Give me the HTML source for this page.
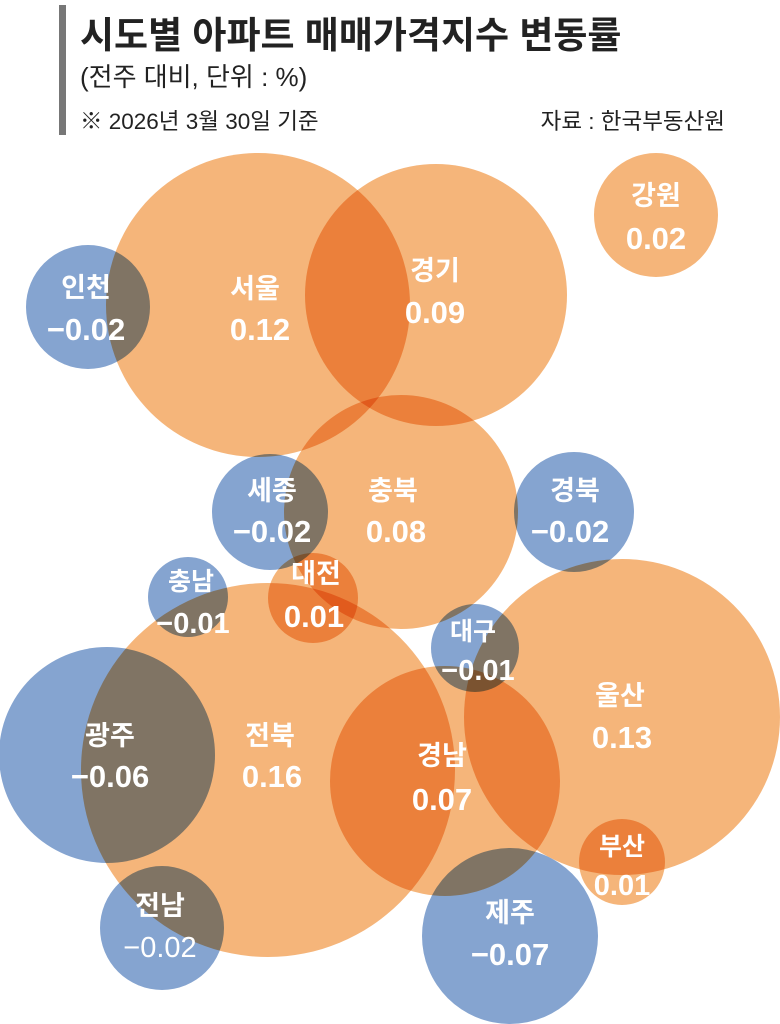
<!DOCTYPE html>
<html><head><meta charset="utf-8"><style>
html,body{margin:0;padding:0;background:#fff;}
svg{display:block}
text{font-family:"Liberation Sans","Noto Sans CJK KR",sans-serif;}
</style></head><body>
<svg width="780" height="1024" viewBox="0 0 780 1024" xmlns="http://www.w3.org/2000/svg">
<rect width="780" height="1024" fill="#fff"/>
<rect x="59" y="5" width="7" height="130" fill="#777"/>
<text x="80" y="48" font-size="37" font-weight="bold" fill="#222">시도별 아파트 매매가격지수 변동률</text>
<text x="80" y="86" font-size="26" fill="#222">(전주 대비, 단위 : %)</text>
<text x="80" y="129" font-size="22.5" fill="#222">※ 2026년 3월 30일 기준</text>
<text x="725" y="129" font-size="22.5" fill="#222" text-anchor="end">자료 : 한국부동산원</text>
<g style="isolation:isolate">
<circle cx="258" cy="305" r="152" fill="#F5B57A" style="mix-blend-mode:multiply"/>
<circle cx="436" cy="295" r="131" fill="#F5B57A" style="mix-blend-mode:multiply"/>
<circle cx="656" cy="215" r="62" fill="#F5B57A" style="mix-blend-mode:multiply"/>
<circle cx="88" cy="307" r="62" fill="#85A4D0" style="mix-blend-mode:multiply"/>
<circle cx="401" cy="512" r="117" fill="#F5B57A" style="mix-blend-mode:multiply"/>
<circle cx="270" cy="512" r="58" fill="#85A4D0" style="mix-blend-mode:multiply"/>
<circle cx="574" cy="512" r="60" fill="#85A4D0" style="mix-blend-mode:multiply"/>
<circle cx="188" cy="597" r="40" fill="#85A4D0" style="mix-blend-mode:multiply"/>
<circle cx="313" cy="598" r="45" fill="#F5B57A" style="mix-blend-mode:multiply"/>
<circle cx="475" cy="648" r="44" fill="#85A4D0" style="mix-blend-mode:multiply"/>
<circle cx="268" cy="770" r="187" fill="#F5B57A" style="mix-blend-mode:multiply"/>
<circle cx="107" cy="755" r="108" fill="#85A4D0" style="mix-blend-mode:multiply"/>
<circle cx="622" cy="717" r="158" fill="#F5B57A" style="mix-blend-mode:multiply"/>
<circle cx="445" cy="781" r="115" fill="#F5B57A" style="mix-blend-mode:multiply"/>
<circle cx="622" cy="862" r="43" fill="#F5B57A" style="mix-blend-mode:multiply"/>
<circle cx="162" cy="928" r="62" fill="#85A4D0" style="mix-blend-mode:multiply"/>
<circle cx="510" cy="936" r="88" fill="#85A4D0" style="mix-blend-mode:multiply"/>
</g>
<g fill="#fff" font-weight="bold" text-anchor="middle">
<text x="656" y="205" font-size="27">강원</text><text x="656" y="249" font-size="31">0.02</text>
<text x="255" y="298" font-size="27">서울</text><text x="260" y="340" font-size="31">0.12</text>
<text x="435" y="280" font-size="27">경기</text><text x="435" y="323" font-size="31">0.09</text>
<text x="86" y="297" font-size="27">인천</text><text x="86" y="340" font-size="31">−0.02</text>
<text x="393" y="500" font-size="27">충북</text><text x="396" y="542" font-size="31">0.08</text>
<text x="272" y="500" font-size="27">세종</text><text x="272" y="542" font-size="31">−0.02</text>
<text x="575" y="500" font-size="27">경북</text><text x="570" y="542" font-size="31">−0.02</text>
<text x="191" y="590" font-size="25">충남</text><text x="193" y="633" font-size="29">−0.01</text>
<text x="316" y="583" font-size="27">대전</text><text x="314" y="627" font-size="31">0.01</text>
<text x="473" y="640" font-size="25">대구</text><text x="478" y="680" font-size="29">−0.01</text>
<text x="270" y="745" font-size="27">전북</text><text x="272" y="787" font-size="31">0.16</text>
<text x="110" y="745" font-size="27">광주</text><text x="110" y="787" font-size="31">−0.06</text>
<text x="620" y="705" font-size="27">울산</text><text x="622" y="748" font-size="31">0.13</text>
<text x="442" y="765" font-size="27">경남</text><text x="442" y="810" font-size="31">0.07</text>
<text x="622" y="855" font-size="25">부산</text><text x="622" y="895" font-size="29">0.01</text>
<text x="160" y="915" font-size="27">전남</text><text x="160" y="957" font-size="29" font-weight="normal">−0.02</text>
<text x="510" y="922" font-size="27">제주</text><text x="510" y="965" font-size="31">−0.07</text>
</g>
</svg>
</body></html>
